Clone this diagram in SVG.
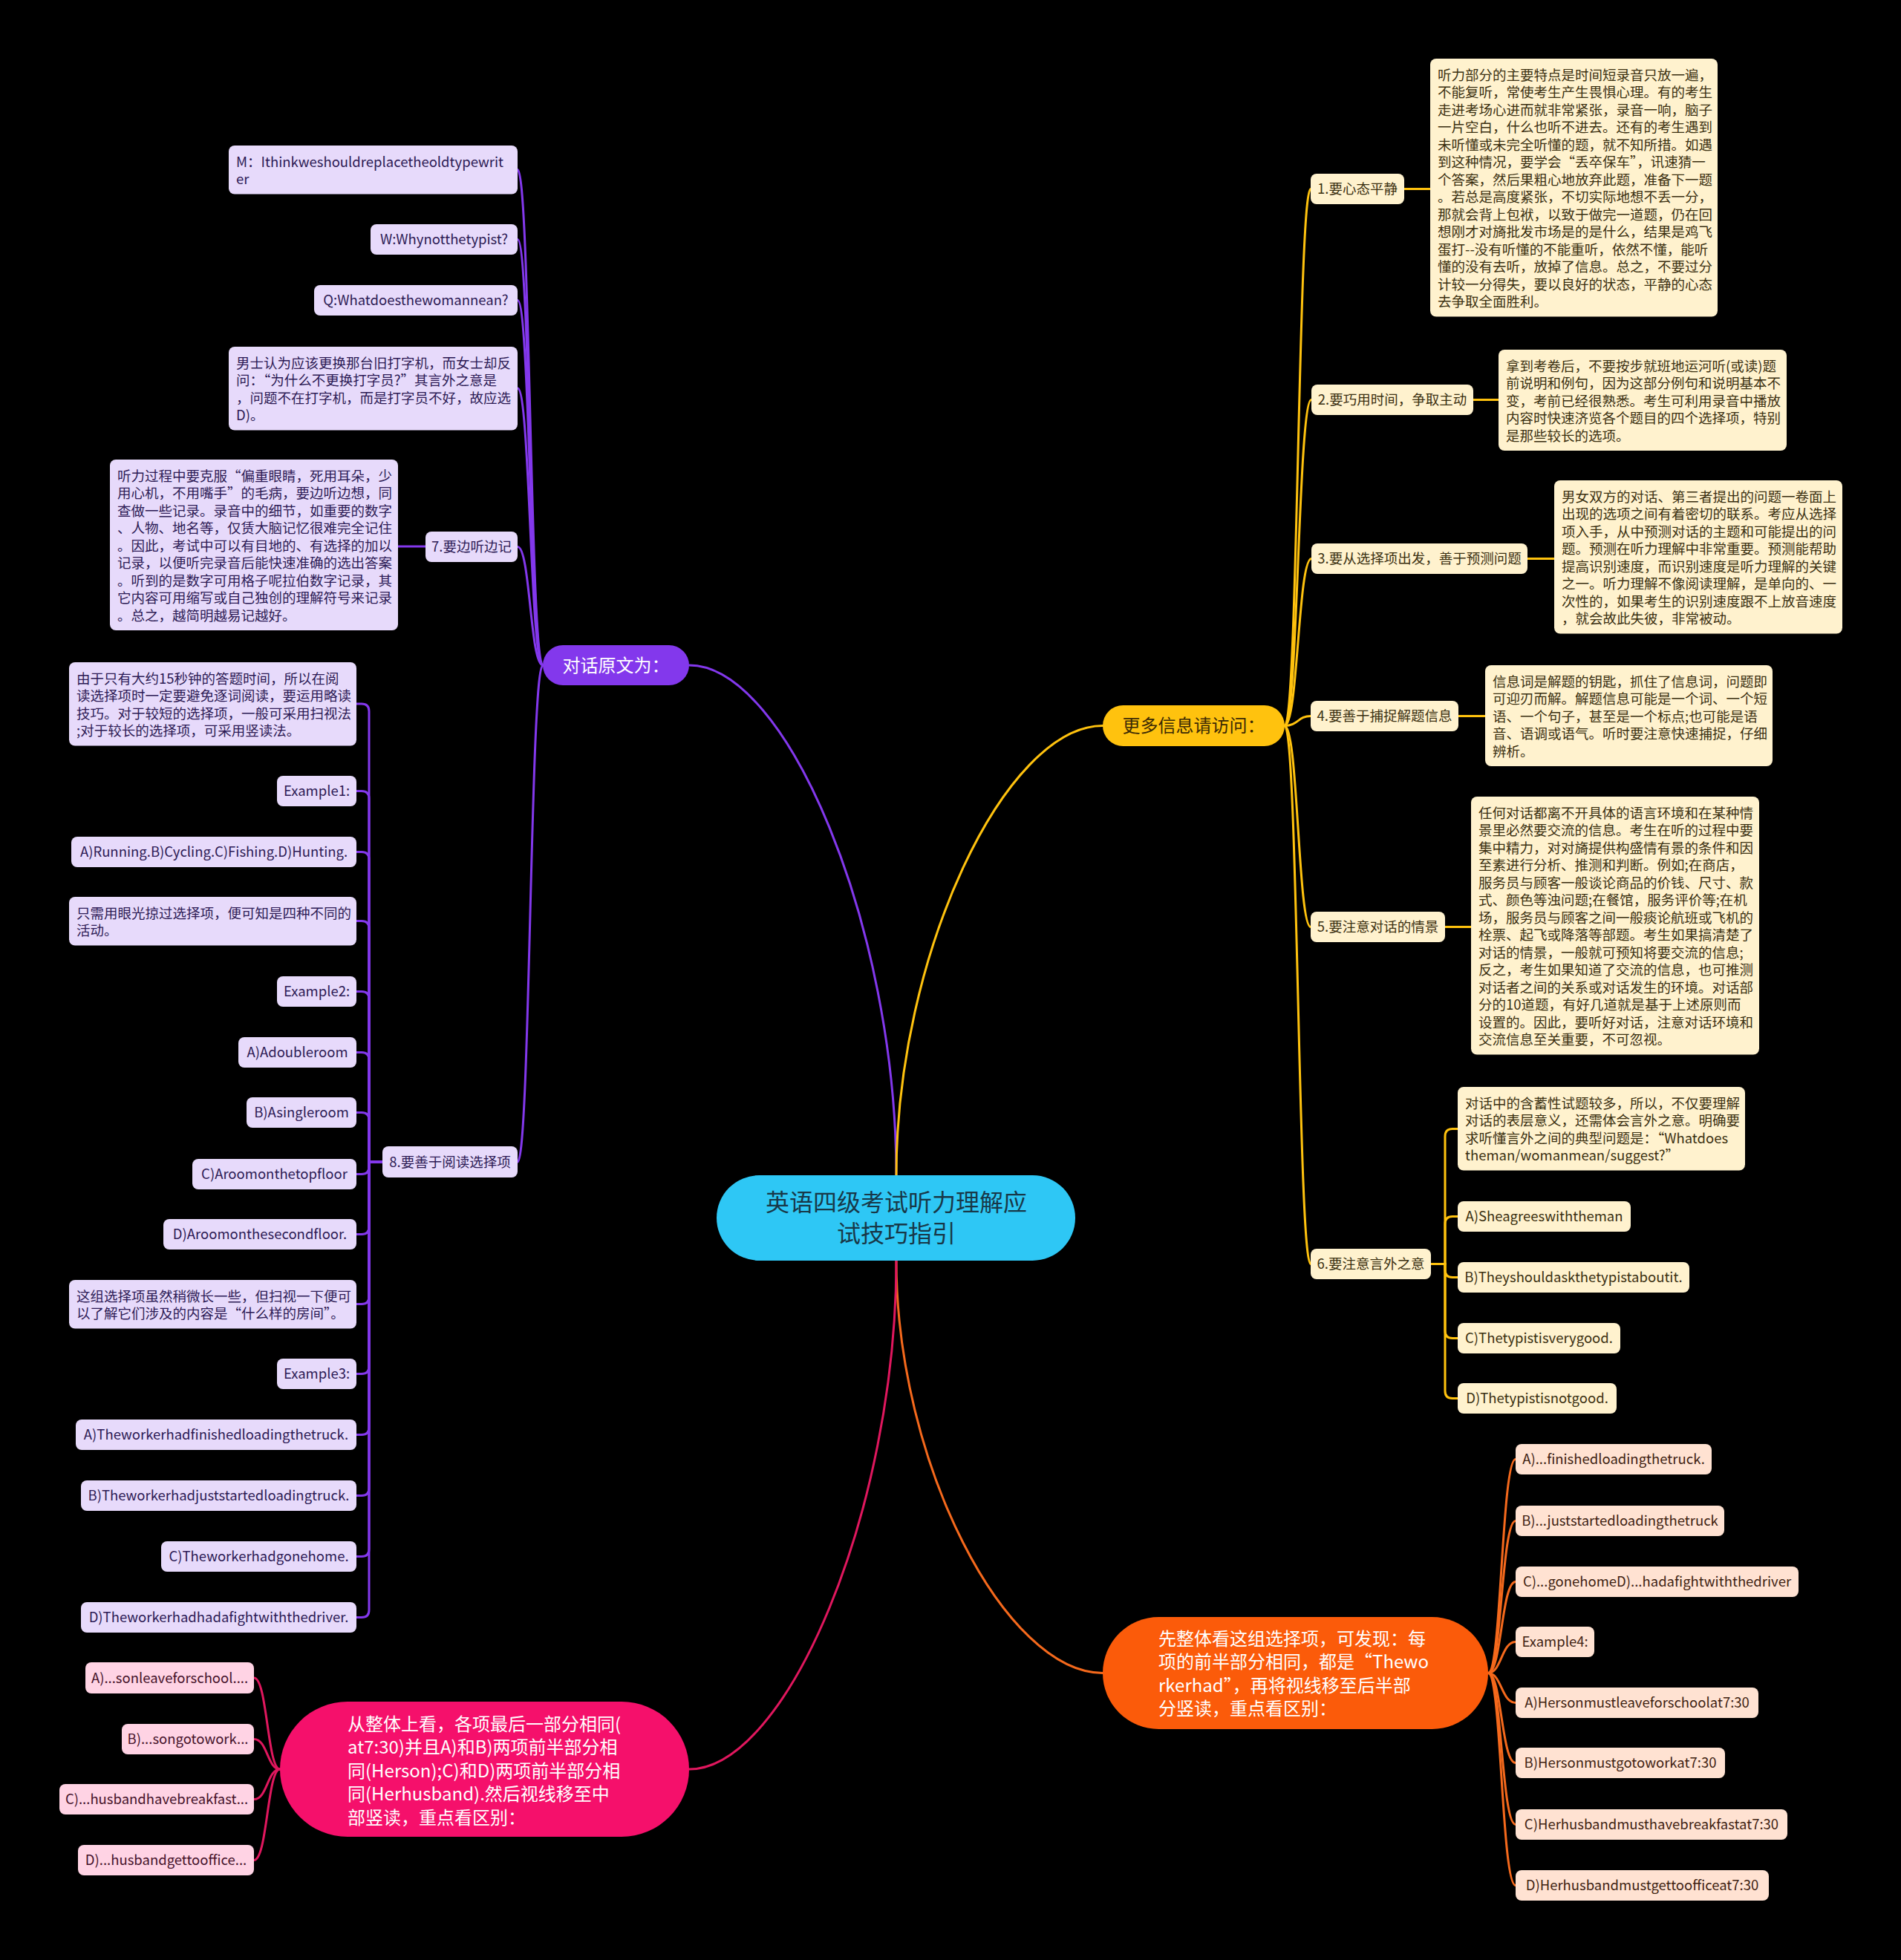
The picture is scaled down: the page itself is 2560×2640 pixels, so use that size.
<svg xmlns="http://www.w3.org/2000/svg" width="2560" height="2640" viewBox="0 0 2560 2640">
<style>
text{font-family:'Noto Sans CJK SC','Noto Sans',sans-serif;font-size:18.5px}
.c{text-anchor:middle}
.pc{fill:#E7DAFB}.tp{fill:#2D1B55}
.yc{fill:#FFF2CE}.ty{fill:#3B3011}
.oc{fill:#FFE2D2}.to{fill:#3F2312}
.kc{fill:#FFD3E4}.tk{fill:#45122A}
.big{font-size:24px}
.ln{fill:none;stroke-width:3;stroke-linecap:round}
.lp{stroke:#8338EC}.ly{stroke:#FFC20E}.lo{stroke:#F5691C}.lk{stroke:#E0175E}
</style>
<rect x="0" y="0" width="2560" height="2640" fill="#000"/>
<g id="connectors">
<path class="ln lp" d="M1207,1583C1207,1250 1060,896 928,896"/>
<path class="ln ly" d="M1207,1583C1207,1286 1354,977.5 1485,977.5"/>
<path class="ln lo" d="M1207,1698C1207,1970 1354,2253.5 1485,2253.5"/>
<path class="ln lk" d="M1207,1698C1207,2034 1059,2383 928,2383"/>
<path class="ln lp" d="M731,896C714,896 714,228.5 697,228.5"/>
<path class="ln lp" d="M731,896C714,896 714,322.5 697,322.5"/>
<path class="ln lp" d="M731,896C714,896 714,404.5 697,404.5"/>
<path class="ln lp" d="M731,896C714,896 714,523 697,523"/>
<path class="ln lp" d="M731,896C714,896 714,736.5 697,736.5"/>
<path class="ln lp" d="M731,896C714,896 714,1565 697,1565"/>
<path class="ln lp" d="M573,736H536"/>
<path class="ln lp" d="M515,1565H497V958Q497,948 487,948H480"/>
<path class="ln lp" d="M515,1565H497V1075.5Q497,1065.5 487,1065.5H480"/>
<path class="ln lp" d="M515,1565H497V1157.5Q497,1147.5 487,1147.5H480"/>
<path class="ln lp" d="M515,1565H497V1250.5Q497,1240.5 487,1240.5H480"/>
<path class="ln lp" d="M515,1565H497V1345.5Q497,1335.5 487,1335.5H480"/>
<path class="ln lp" d="M515,1565H497V1427.5Q497,1417.5 487,1417.5H480"/>
<path class="ln lp" d="M515,1565H497V1508.5Q497,1498.5 487,1498.5H480"/>
<path class="ln lp" d="M515,1565H497V1571.5Q497,1581.5 487,1581.5H480"/>
<path class="ln lp" d="M515,1565H497V1652.5Q497,1662.5 487,1662.5H480"/>
<path class="ln lp" d="M515,1565H497V1746.5Q497,1756.5 487,1756.5H480"/>
<path class="ln lp" d="M515,1565H497V1840.5Q497,1850.5 487,1850.5H480"/>
<path class="ln lp" d="M515,1565H497V1922.5Q497,1932.5 487,1932.5H480"/>
<path class="ln lp" d="M515,1565H497V2004.5Q497,2014.5 487,2014.5H480"/>
<path class="ln lp" d="M515,1565H497V2086.5Q497,2096.5 487,2096.5H480"/>
<path class="ln lp" d="M515,1565H497V2168.5Q497,2178.5 487,2178.5H480"/>
<path class="ln ly" d="M1730,977.5C1748,977.5 1748,254.5 1765,254.5"/>
<path class="ln ly" d="M1730,977.5C1748,977.5 1748,538.5 1766,538.5"/>
<path class="ln ly" d="M1730,977.5C1748,977.5 1748,752.5 1766,752.5"/>
<path class="ln ly" d="M1730,977.5C1748,977.5 1748,964.5 1765,964.5"/>
<path class="ln ly" d="M1730,977.5C1748,977.5 1748,1248.5 1765,1248.5"/>
<path class="ln ly" d="M1730,977.5C1748,977.5 1748,1702.5 1765,1702.5"/>
<path class="ln ly" d="M1891,254.5H1926"/>
<path class="ln ly" d="M1984,538.5H2018"/>
<path class="ln ly" d="M2057,752.5H2093"/>
<path class="ln ly" d="M1964,964.5H2000"/>
<path class="ln ly" d="M1946,1248.5H1981"/>
<path class="ln ly" d="M1927,1702.5H1946V1530.5Q1946,1520.5 1956,1520.5H1963"/>
<path class="ln ly" d="M1927,1702.5H1946V1648.5Q1946,1638.5 1956,1638.5H1963"/>
<path class="ln ly" d="M1927,1702.5H1946V1710.5Q1946,1720.5 1956,1720.5H1963"/>
<path class="ln ly" d="M1927,1702.5H1946V1792.5Q1946,1802.5 1956,1802.5H1963"/>
<path class="ln ly" d="M1927,1702.5H1946V1873.5Q1946,1883.5 1956,1883.5H1963"/>
<path class="ln lo" d="M2004,2253.5C2022,2253.5 2022,1965.5 2041,1965.5"/>
<path class="ln lo" d="M2004,2253.5C2022,2253.5 2022,2048.5 2041,2048.5"/>
<path class="ln lo" d="M2004,2253.5C2022,2253.5 2022,2130.5 2041,2130.5"/>
<path class="ln lo" d="M2004,2253.5C2022,2253.5 2022,2211.5 2041,2211.5"/>
<path class="ln lo" d="M2004,2253.5C2022,2253.5 2022,2293.5 2041,2293.5"/>
<path class="ln lo" d="M2004,2253.5C2022,2253.5 2022,2374.5 2041,2374.5"/>
<path class="ln lo" d="M2004,2253.5C2022,2253.5 2022,2457.5 2041,2457.5"/>
<path class="ln lo" d="M2004,2253.5C2022,2253.5 2022,2539.5 2041,2539.5"/>
<path class="ln lk" d="M377,2383C360,2383 360,2260 342,2260"/>
<path class="ln lk" d="M377,2383C360,2383 360,2342.5 342,2342.5"/>
<path class="ln lk" d="M377,2383C360,2383 360,2423.5 342,2423.5"/>
<path class="ln lk" d="M377,2383C360,2383 360,2505.5 342,2505.5"/>
</g>
<g id="root"><rect x="965" y="1583" width="483" height="115" rx="57.5" fill="#2EC7F5"/><text class="c" x="1207" y="1631" font-size="32" style="font-size:32px" fill="#183848">英语四级考试听力理解应</text><text class="c" x="1207" y="1673" style="font-size:32px" fill="#183848">试技巧指引</text></g>
<g id="b-dialog"><rect x="731" y="869" width="197" height="54" rx="27" fill="#8338EC"/><text class="c big" x="829.5" y="904.5" fill="#fff">对话原文为：</text></g>
<g id="b-more"><rect x="1485" y="950" width="245" height="55" rx="27.5" fill="#FFC20E"/><text class="c big" x="1607.5" y="986" fill="#3B2A05">更多信息请访问：</text></g>
<g id="b-orange"><rect x="1485" y="2178" width="519" height="151" rx="75.5" fill="#FB5B0A"/><text class="big" fill="#fff"><tspan x="1560" y="2215.5">先整体看这组选择项，可发现：每</tspan><tspan x="1560" y="2247">项的前半部分相同，都是“Thewo</tspan><tspan x="1560" y="2278.5">rkerhad”，再将视线移至后半部</tspan><tspan x="1560" y="2310">分竖读，重点看区别：</tspan></text></g>
<g id="b-pink"><rect x="377" y="2292" width="551" height="182" rx="91" fill="#F5106B"/><text class="big" fill="#fff"><tspan x="468" y="2330.5">从整体上看，各项最后一部分相同(</tspan><tspan x="468" y="2362">at7:30)并且A)和B)两项前半部分相</tspan><tspan x="468" y="2393.5">同(Herson);C)和D)两项前半部分相</tspan><tspan x="468" y="2425">同(Herhusband).然后视线移至中</tspan><tspan x="468" y="2456.5">部竖读，重点看区别：</tspan></text></g>
<g id="p-m"><rect class="pc" x="308" y="196" width="389" height="65.5" rx="8"/><text class="tp"><tspan x="318" y="224.5">M：Ithinkweshouldreplacetheoldtypewrit</tspan><tspan x="318" y="248">er</tspan></text></g>
<g id="p-w"><rect class="pc" x="499" y="302" width="198" height="41" rx="8"/><text class="tp c" x="598" y="329">W:Whynotthetypist?</text></g>
<g id="p-q"><rect class="pc" x="423" y="384" width="274" height="41" rx="8"/><text class="tp c" x="560" y="411">Q:Whatdoesthewomannean?</text></g>
<g id="p-nanshi"><rect class="pc" x="308" y="467" width="389" height="112.5" rx="8"/><text class="tp"><tspan x="318" y="495.5">男士认为应该更换那台旧打字机，而女士却反</tspan><tspan x="318" y="519">问：“为什么不更换打字员?”其言外之意是</tspan><tspan x="318" y="542.5">，问题不在打字机，而是打字员不好，故应选</tspan><tspan x="318" y="566">D)。</tspan></text></g>
<g id="p-7"><rect class="pc" x="573" y="716" width="124" height="41" rx="8"/><text class="tp c" x="635" y="743">7.要边听边记</text></g>
<g id="p-7t"><rect class="pc" x="148" y="619" width="388" height="230" rx="8"/><text class="tp"><tspan x="158" y="647.5">听力过程中要克服“偏重眼睛，死用耳朵，少</tspan><tspan x="158" y="671">用心机，不用嘴手”的毛病，要边听边想，同</tspan><tspan x="158" y="694.5">查做一些记录。录音中的细节，如重要的数字</tspan><tspan x="158" y="718">、人物、地名等，仅赁大脑记忆很难完全记住</tspan><tspan x="158" y="741.5">。因此，考试中可以有目地的、有选择的加以</tspan><tspan x="158" y="765">记录，以便听完录音后能快速准确的选出答案</tspan><tspan x="158" y="788.5">。听到的是数字可用格子呢拉伯数字记录，其</tspan><tspan x="158" y="812">它内容可用缩写或自己独创的理解符号来记录</tspan><tspan x="158" y="835.5">。总之，越简明越易记越好。</tspan></text></g>
<g id="p-8"><rect class="pc" x="515" y="1544" width="182" height="42" rx="8"/><text class="tp c" x="606" y="1571.5">8.要善于阅读选择项</text></g>
<g id="p8-a"><rect class="pc" x="93" y="892" width="387" height="112.5" rx="8"/><text class="tp"><tspan x="103" y="920.5">由于只有大约15秒钟的答题时间，所以在阅</tspan><tspan x="103" y="944">读选择项时一定要避免逐词阅读，要运用略读</tspan><tspan x="103" y="967.5">技巧。对于较短的选择项，一般可采用扫视法</tspan><tspan x="103" y="991">;对于较长的选择项，可采用竖读法。</tspan></text></g>
<g id="p8-ex1"><rect class="pc" x="373" y="1045" width="107" height="41" rx="8"/><text class="tp c" x="426.5" y="1072">Example1:</text></g>
<g id="p8-run"><rect class="pc" x="96" y="1127" width="384" height="41" rx="8"/><text class="tp c" x="288" y="1154">A)Running.B)Cycling.C)Fishing.D)Hunting.</text></g>
<g id="p8-b"><rect class="pc" x="93" y="1208" width="387" height="65.5" rx="8"/><text class="tp"><tspan x="103" y="1236.5">只需用眼光掠过选择项，便可知是四种不同的</tspan><tspan x="103" y="1260">活动。</tspan></text></g>
<g id="p8-ex2"><rect class="pc" x="373" y="1315" width="107" height="41" rx="8"/><text class="tp c" x="426.5" y="1342">Example2:</text></g>
<g id="p8-r1"><rect class="pc" x="321" y="1397" width="159" height="41" rx="8"/><text class="tp c" x="400.5" y="1424">A)Adoubleroom</text></g>
<g id="p8-r2"><rect class="pc" x="332" y="1478" width="148" height="41" rx="8"/><text class="tp c" x="406" y="1505">B)Asingleroom</text></g>
<g id="p8-r3"><rect class="pc" x="259" y="1561" width="221" height="41" rx="8"/><text class="tp c" x="369.5" y="1588">C)Aroomonthetopfloor</text></g>
<g id="p8-r4"><rect class="pc" x="220" y="1642" width="260" height="41" rx="8"/><text class="tp c" x="350" y="1669">D)Aroomonthesecondfloor.</text></g>
<g id="p8-c"><rect class="pc" x="93" y="1724" width="387" height="65.5" rx="8"/><text class="tp"><tspan x="103" y="1752.5">这组选择项虽然稍微长一些，但扫视一下便可</tspan><tspan x="103" y="1776">以了解它们涉及的内容是“什么样的房间”。</tspan></text></g>
<g id="p8-ex3"><rect class="pc" x="373" y="1830" width="107" height="41" rx="8"/><text class="tp c" x="426.5" y="1857">Example3:</text></g>
<g id="p8-w1"><rect class="pc" x="102" y="1912" width="378" height="41" rx="8"/><text class="tp c" x="291" y="1939">A)Theworkerhadfinishedloadingthetruck.</text></g>
<g id="p8-w2"><rect class="pc" x="109" y="1994" width="371" height="41" rx="8"/><text class="tp c" x="294.5" y="2021">B)Theworkerhadjuststartedloadingtruck.</text></g>
<g id="p8-w3"><rect class="pc" x="217" y="2076" width="263" height="41" rx="8"/><text class="tp c" x="348.5" y="2103">C)Theworkerhadgonehome.</text></g>
<g id="p8-w4"><rect class="pc" x="109" y="2158" width="371" height="41" rx="8"/><text class="tp c" x="294.5" y="2185">D)Theworkerhadhadafightwiththedriver.</text></g>
<g id="y-1"><rect class="yc" x="1765" y="234" width="126" height="41" rx="8"/><text class="ty c" x="1828" y="261">1.要心态平静</text></g>
<g id="y-1t"><rect class="yc" x="1926" y="79" width="387" height="347.5" rx="8"/><text class="ty"><tspan x="1936" y="107.5">听力部分的主要特点是时间短录音只放一遍，</tspan><tspan x="1936" y="131">不能复听，常使考生产生畏惧心理。有的考生</tspan><tspan x="1936" y="154.5">走进考场心进而就非常紧张，录音一响，脑子</tspan><tspan x="1936" y="178">一片空白，什么也听不进去。还有的考生遇到</tspan><tspan x="1936" y="201.5">未听懂或未完全听懂的题，就不知所措。如遇</tspan><tspan x="1936" y="225">到这种情况，要学会“丢卒保车”，讯速猜一</tspan><tspan x="1936" y="248.5">个答案，然后果粗心地放弃此题，准备下一题</tspan><tspan x="1936" y="272">。若总是高度紧张，不切实际地想不丢一分，</tspan><tspan x="1936" y="295.5">那就会背上包袱，以致于做完一道题，仍在回</tspan><tspan x="1936" y="319">想刚才对旖批发市场是的是什么，结果是鸡飞</tspan><tspan x="1936" y="342.5">蛋打--没有听懂的不能重听，依然不懂，能听</tspan><tspan x="1936" y="366">懂的没有去听，放掉了信息。总之，不要过分</tspan><tspan x="1936" y="389.5">计较一分得失，要以良好的状态，平静的心态</tspan><tspan x="1936" y="413">去争取全面胜利。</tspan></text></g>
<g id="y-2"><rect class="yc" x="1766" y="518" width="218" height="41" rx="8"/><text class="ty c" x="1875" y="545">2.要巧用时间，争取主动</text></g>
<g id="y-2t"><rect class="yc" x="2018" y="471" width="388" height="136" rx="8"/><text class="ty"><tspan x="2028" y="499.5">拿到考卷后，不要按步就班地运河听(或读)题</tspan><tspan x="2028" y="523">前说明和例句，因为这部分例句和说明基本不</tspan><tspan x="2028" y="546.5">变，考前已经很熟悉。考生可利用录音中播放</tspan><tspan x="2028" y="570">内容时快速济览各个题目的四个选择项，特别</tspan><tspan x="2028" y="593.5">是那些较长的选项。</tspan></text></g>
<g id="y-3"><rect class="yc" x="1766" y="732" width="291" height="41" rx="8"/><text class="ty c" x="1911.5" y="759">3.要从选择项出发，善于预测问题</text></g>
<g id="y-3t"><rect class="yc" x="2093" y="647" width="388" height="206.5" rx="8"/><text class="ty"><tspan x="2103" y="675.5">男女双方的对话、第三者提出的问题一卷面上</tspan><tspan x="2103" y="699">出现的选项之间有着密切的联系。考应从选择</tspan><tspan x="2103" y="722.5">项入手，从中预测对话的主题和可能提出的问</tspan><tspan x="2103" y="746">题。预测在听力理解中非常重要。预测能帮助</tspan><tspan x="2103" y="769.5">提高识别速度，而识别速度是听力理解的关键</tspan><tspan x="2103" y="793">之一。听力理解不像阅读理解，是单向的、一</tspan><tspan x="2103" y="816.5">次性的，如果考生的识别速度跟不上放音速度</tspan><tspan x="2103" y="840">，就会故此失彼，非常被动。</tspan></text></g>
<g id="y-4"><rect class="yc" x="1765" y="944" width="199" height="41" rx="8"/><text class="ty c" x="1864.5" y="971">4.要善于捕捉解题信息</text></g>
<g id="y-4t"><rect class="yc" x="2000" y="896" width="387" height="136" rx="8"/><text class="ty"><tspan x="2010" y="924.5">信息词是解题的钥匙，抓住了信息词，问题即</tspan><tspan x="2010" y="948">可迎刃而解。解题信息可能是一个词、一个短</tspan><tspan x="2010" y="971.5">语、一个句子，甚至是一个标点;也可能是语</tspan><tspan x="2010" y="995">音、语调或语气。听时要注意快速捕捉，仔细</tspan><tspan x="2010" y="1018.5">辨析。</tspan></text></g>
<g id="y-5"><rect class="yc" x="1765" y="1228" width="181" height="41" rx="8"/><text class="ty c" x="1855.5" y="1255">5.要注意对话的情景</text></g>
<g id="y-5t"><rect class="yc" x="1981" y="1073" width="388" height="347.5" rx="8"/><text class="ty"><tspan x="1991" y="1101.5">任何对话都离不开具体的语言环境和在某种情</tspan><tspan x="1991" y="1125">景里必然要交流的信息。考生在听的过程中要</tspan><tspan x="1991" y="1148.5">集中精力，对对旖提供构盛情有景的条件和因</tspan><tspan x="1991" y="1172">至素进行分析、推测和判断。例如;在商店，</tspan><tspan x="1991" y="1195.5">服务员与顾客一般谈论商品的价钱、尺寸、款</tspan><tspan x="1991" y="1219">式、颜色等浊问题;在餐馆，服务评价等;在机</tspan><tspan x="1991" y="1242.5">场，服务员与顾客之间一般痰论航班或飞机的</tspan><tspan x="1991" y="1266">栓票、起飞或降落等部题。考生如果搞清楚了</tspan><tspan x="1991" y="1289.5">对话的情景，一般就可预知将要交流的信息;</tspan><tspan x="1991" y="1313">反之，考生如果知道了交流的信息，也可推测</tspan><tspan x="1991" y="1336.5">对话者之间的关系或对话发生的环境。对话部</tspan><tspan x="1991" y="1360">分的10道题，有好几道就是基于上述原则而</tspan><tspan x="1991" y="1383.5">设置的。因此，要听好对话，注意对话环境和</tspan><tspan x="1991" y="1407">交流信息至关重要，不可忽视。</tspan></text></g>
<g id="y-6"><rect class="yc" x="1765" y="1682" width="162" height="41" rx="8"/><text class="ty c" x="1846" y="1709">6.要注意言外之意</text></g>
<g id="y6-a"><rect class="yc" x="1963" y="1464" width="387" height="112.5" rx="8"/><text class="ty"><tspan x="1973" y="1492.5">对话中的含蓄性试题较多，所以，不仅要理解</tspan><tspan x="1973" y="1516">对话的表层意义，还需体会言外之意。明确要</tspan><tspan x="1973" y="1539.5">求听懂言外之间的典型问题是：“Whatdoes</tspan><tspan x="1973" y="1563">theman/womanmean/suggest?”</tspan></text></g>
<g id="y6-b"><rect class="yc" x="1963" y="1618" width="233" height="41" rx="8"/><text class="ty c" x="2079.5" y="1645">A)Sheagreeswiththeman</text></g>
<g id="y6-c"><rect class="yc" x="1963" y="1700" width="312" height="41" rx="8"/><text class="ty c" x="2119" y="1727">B)Theyshouldaskthetypistaboutit.</text></g>
<g id="y6-d"><rect class="yc" x="1963" y="1782" width="219" height="41" rx="8"/><text class="ty c" x="2072.5" y="1809">C)Thetypistisverygood.</text></g>
<g id="y6-e"><rect class="yc" x="1963" y="1863" width="214" height="41" rx="8"/><text class="ty c" x="2070" y="1890">D)Thetypistisnotgood.</text></g>
<g id="o-1"><rect class="oc" x="2041" y="1945" width="264" height="41" rx="8"/><text class="to c" x="2173" y="1972">A)...finishedloadingthetruck.</text></g>
<g id="o-2"><rect class="oc" x="2041" y="2028" width="281" height="41" rx="8"/><text class="to c" x="2181.5" y="2055">B)...juststartedloadingthetruck</text></g>
<g id="o-3"><rect class="oc" x="2041" y="2110" width="381" height="41" rx="8"/><text class="to c" x="2231.5" y="2137">C)...gonehomeD)...hadafightwiththedriver</text></g>
<g id="o-4"><rect class="oc" x="2041" y="2191" width="106" height="41" rx="8"/><text class="to c" x="2094" y="2218">Example4:</text></g>
<g id="o-5"><rect class="oc" x="2041" y="2273" width="327" height="41" rx="8"/><text class="to c" x="2204.5" y="2300">A)Hersonmustleaveforschoolat7:30</text></g>
<g id="o-6"><rect class="oc" x="2041" y="2354" width="282" height="41" rx="8"/><text class="to c" x="2182" y="2381">B)Hersonmustgotoworkat7:30</text></g>
<g id="o-7"><rect class="oc" x="2041" y="2437" width="366" height="41" rx="8"/><text class="to c" x="2224" y="2464">C)Herhusbandmusthavebreakfastat7:30</text></g>
<g id="o-8"><rect class="oc" x="2041" y="2519" width="341" height="41" rx="8"/><text class="to c" x="2211.5" y="2546">D)Herhusbandmustgettoofficeat7:30</text></g>
<g id="k-1"><rect class="kc" x="115" y="2239" width="227" height="42" rx="8"/><text class="tk c" x="228.5" y="2266.5">A)...sonleaveforschool....</text></g>
<g id="k-2"><rect class="kc" x="164" y="2322" width="178" height="41" rx="8"/><text class="tk c" x="253" y="2349">B)...songotowork...</text></g>
<g id="k-3"><rect class="kc" x="80" y="2403" width="262" height="41" rx="8"/><text class="tk c" x="211" y="2430">C)...husbandhavebreakfast...</text></g>
<g id="k-4"><rect class="kc" x="105" y="2485" width="237" height="41" rx="8"/><text class="tk c" x="223.5" y="2512">D)...husbandgettooffice...</text></g>
</svg>
